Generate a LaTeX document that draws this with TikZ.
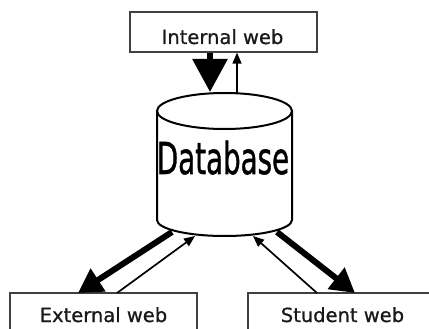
\documentclass[tikz,border=0pt]{standalone}
\usepackage{fontspec}
\setmainfont{DejaVu Sans}
\newfontfamily\labelfont[FakeBold=0.8]{DejaVu Sans}
\newfontfamily\dbfont[FakeBold=1.2]{DejaVu Sans}
\usetikzlibrary{arrows.meta,calc}
\tikzset{
  webbox/.style={draw=black!75, line width=1.3pt, fill=white, inner sep=0pt},
  weblabel/.style={anchor=base, inner sep=0pt, font=\labelfont\fontsize{19.5}{22}\selectfont, text=black!90},
  bigflow/.style={line width=6pt, -{Triangle[length=24pt,width=26pt]}},
  hugeflow/.style={line width=6pt, -{Triangle[length=33pt,width=34pt]}},
  thinflow/.style={line width=1.7pt, -{Triangle[length=11pt,width=9pt]}},
  dbline/.style={line width=2pt}
}
\begin{document}
\begin{tikzpicture}[x=1pt,y=1pt]
\useasboundingbox (0,0) rectangle (429,-329);
\begin{scope}
\clip (0,0) rectangle (429,-329);
% boxes
\node[webbox, minimum width=187pt, minimum height=40pt] (iw) at (223.5,-32) {};
\node[weblabel] (iwt) at (222.5,-44) {Internal web};
\node[webbox, minimum width=187pt, minimum height=50pt] (ew) at (103.5,-318) {};
\node[weblabel] (ewt) at (103.5,-322) {External web};
\node[webbox, minimum width=189pt, minimum height=50pt] (sw) at (342.5,-318) {};
\node[weblabel] (swt) at (342.5,-322) {Student web};
\end{scope}
% database cylinder
\draw[dbline, fill=white] (157,-111) -- (157,-220) arc[start angle=180, end angle=360, x radius=67.5pt, y radius=16pt] -- (292,-111);
\draw[dbline] (224.5,-111) ellipse[x radius=67.5pt, y radius=18pt];
\node[anchor=base, inner sep=0pt] (db) at (223,-174) {\scalebox{0.63}[1]{\dbfont\fontsize{44}{48}\selectfont Database}};
% connector coordinates
\coordinate (dbtopA) at (210,-92);
\coordinate (dbtopB) at (237,-93);
\coordinate (dbbl1) at (172,-232);
\coordinate (dbbl2) at (195,-236);
\coordinate (dbbr1) at (277,-232);
\coordinate (dbbr2) at (253,-236);
\coordinate (ewA) at (78,-293);
\coordinate (ewB) at (117,-293);
\coordinate (swA) at (355,-293);
\coordinate (swB) at (317,-293);
% arrows
\draw[hugeflow] (iw.south -| dbtopA) -- (dbtopA);
\draw[thinflow] (dbtopB) -- (iw.south -| dbtopB);
\draw[bigflow] (dbbl1) -- (ewA);
\draw[thinflow] (ewB) -- (dbbl2);
\draw[bigflow] (dbbr1) -- (swA);
\draw[thinflow] (swB) -- (dbbr2);
\end{tikzpicture}
\end{document}
